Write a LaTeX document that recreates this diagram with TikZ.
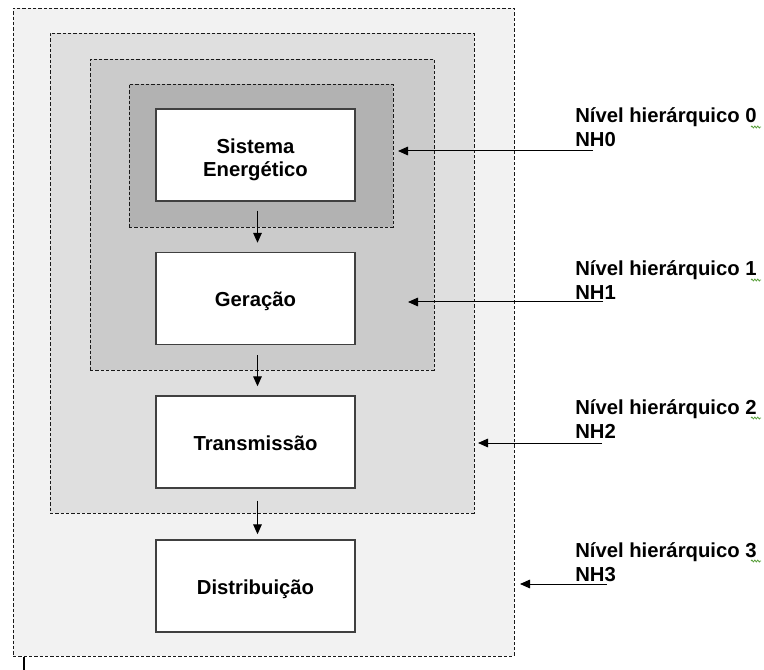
\documentclass[tikz,border=0pt]{standalone}
\usepackage{fontspec}
\setmainfont{Liberation Sans}
\usetikzlibrary{fit,arrows.meta,decorations.pathmorphing}
\definecolor{lvlthree}{HTML}{F2F2F2}
\definecolor{lvltwo}{HTML}{DFDFDF}
\definecolor{lvlone}{HTML}{CBCBCB}
\definecolor{lvlzero}{HTML}{B2B2B2}
\definecolor{boxline}{HTML}{404040}
\definecolor{spellgreen}{HTML}{5AA03C}
% box text: baseline of last line placed (h/2) below the box centre
\newcommand{\boxtxt}[2]{\raisebox{0pt}[#1][0pt]{\begin{tabular}[b]{@{}c@{}}#2\end{tabular}}}
\tikzset{
  region/.style={draw=black!90, line width=0.7pt, dash pattern=on 2.4pt off 1.6pt, inner sep=0pt},
  stepbox/.style={draw=boxline, fill=white, line width=1.1pt, minimum width=149.25pt, minimum height=69pt,
    font=\fontsize{15.2}{18}\selectfont\bfseries, inner sep=0pt},
  levellabel/.style={anchor=base west, align=left, font=\fontsize{15.2}{18}\selectfont\bfseries, inner sep=0pt},
  arr/.style={draw=black, line width=0.75pt, -{Triangle[length=7.5pt,width=6.5pt]}},
  squiggle/.style={draw=spellgreen, line width=0.6pt, decorate, decoration={snake, amplitude=0.7pt, segment length=2.2pt}}
}
\begin{document}
\begin{tikzpicture}[x=0.75pt, y=-0.75pt]
\useasboundingbox (0,0) rectangle (764,670);
% nested level regions
\node[region, fill=lvlthree, fit={(13,8) (514,656)}] (r3) {};
\node[region, fill=lvltwo, fit={(50,33) (474,513)}] (r2) {};
\node[region, fill=lvlone, fit={(90,59) (434,370)}] (r1) {};
\node[region, fill=lvlzero, fit={(129,84) (393,227)}] (r0) {};
% boxes
\node[stepbox] (sist) at (255.5,155) {\boxtxt{33pt}{Sistema\\[-0.75pt]Energético}};
\node[stepbox] (ger) at (255.5,298.5) {\boxtxt{12pt}{Geração}};
\node[stepbox] (trans) at (255.5,442) {\boxtxt{12pt}{Transmissão}};
\node[stepbox] (dist) at (255.5,586) {\boxtxt{12pt}{Distribuição}};
% vertical arrows
\draw[arr, shorten <=6.75pt, shorten >=6.75pt] ([xshift=1.5pt]sist.south) -- ([xshift=1.5pt]ger.north);
\draw[arr, shorten <=7.5pt, shorten >=6.75pt] ([xshift=1.5pt]ger.south) -- ([xshift=1.5pt]trans.north);
\draw[arr, shorten <=9pt, shorten >=3.75pt] ([xshift=1.5pt]trans.south) -- ([xshift=1.5pt]dist.north);
% labels (base anchor = last line)
\node[levellabel] (l0) at (575,147) {Nível hierárquico 0\\NH0};
\node[levellabel] (l1) at (575,300) {Nível hierárquico 1\\NH1};
\node[levellabel] (l2) at (575,438) {Nível hierárquico 2\\NH2};
\node[levellabel] (l3) at (575,581) {Nível hierárquico 3\\NH3};
% spell-check squiggles
\coordinate (q0a) at (751,127); \coordinate (q0b) at (761,127);
\coordinate (q1a) at (751,280); \coordinate (q1b) at (761,280);
\coordinate (q2a) at (751,418); \coordinate (q2b) at (761,418);
\coordinate (q3a) at (751,561); \coordinate (q3b) at (761,561);
\draw[squiggle] (q0a) -- (q0b);
\draw[squiggle] (q1a) -- (q1b);
\draw[squiggle] (q2a) -- (q2b);
\draw[squiggle] (q3a) -- (q3b);
% level arrows
\coordinate (s0) at (593,151); \coordinate (t0) at (398,151);
\coordinate (s1) at (603,302); \coordinate (t1) at (408,302);
\coordinate (s2) at (602,443); \coordinate (t2) at (478,443);
\coordinate (s3) at (607,584); \coordinate (t3) at (520,584);
\draw[arr] (s0) -- (t0);
\draw[arr] (s1) -- (t1);
\draw[arr] (s2) -- (t2);
\draw[arr] (s3) -- (t3);
% text cursor mark
\coordinate (ca) at (24,657); \coordinate (cb) at (24,670);
\draw[line width=1.5pt] (ca) -- (cb);
\end{tikzpicture}
\end{document}
